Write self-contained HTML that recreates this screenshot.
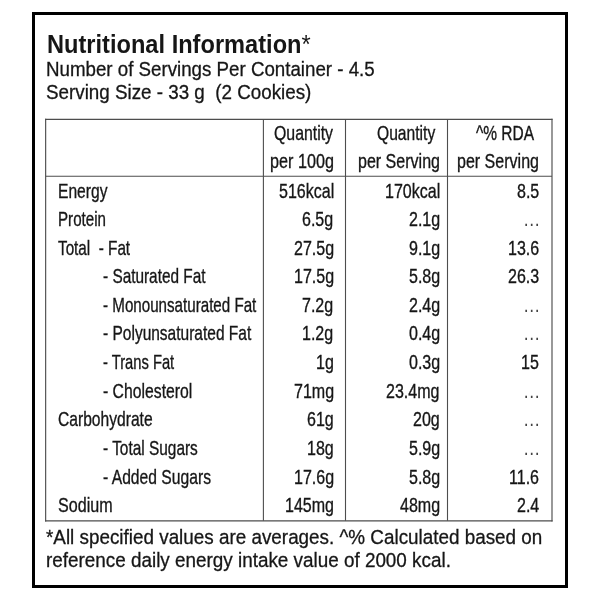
<!DOCTYPE html>
<html lang="en">
<head>
<meta charset="utf-8">
<title>Nutritional Information</title>
<style>
html,body{margin:0;padding:0;background:#fff;}
body{width:600px;height:600px;position:relative;overflow:hidden;font-family:"Liberation Sans",sans-serif;color:#161616;}
.card{position:absolute;left:32px;top:12px;width:530px;height:570px;border:3px solid #000;}
.t{position:absolute;white-space:pre;line-height:1;margin:0;font-weight:normal;transform-origin:0 0;}
h1.t{font-weight:bold;}
.ast{font-weight:normal;}
.th,.lab,.val{-webkit-text-stroke:0.35px #161616;}
.val.dots{-webkit-text-stroke:0;color:#444;}
.sub,.foot{-webkit-text-stroke:0.3px #161616;}
.grid{position:absolute;left:0;top:0;}
</style>
</head>
<body>
<div class="card"></div>
<svg class="grid" width="600" height="600" viewBox="0 0 600 600" aria-hidden="true">
<g stroke="#4d4d4d" stroke-width="1.15" stroke-linecap="square">
<line x1="45.65" y1="119.3" x2="552" y2="119.3"/>
<line x1="45.65" y1="520.9" x2="552" y2="520.9"/>
<line x1="45.65" y1="119.3" x2="45.65" y2="520.9"/>
<line x1="552" y1="119.3" x2="552" y2="520.9"/>
</g>
<line x1="45.65" y1="176.25" x2="552" y2="176.25" stroke="#4d4d4d" stroke-width="1.1"/>
<line x1="263.4" y1="119.3" x2="263.4" y2="520.65" stroke="#4d4d4d" stroke-width="1.1"/>
<line x1="345.5" y1="119.3" x2="345.5" y2="520.65" stroke="#4d4d4d" stroke-width="1.1"/>
<line x1="447.5" y1="119.3" x2="447.5" y2="520.65" stroke="#4d4d4d" stroke-width="1.1"/>
</svg>
<h1 class="t title" style="left:46.60px;top:31px;font-size:26.6px;transform:scaleX(0.8880);">Nutritional Information<span class="ast">*</span></h1>
<p class="t sub" style="left:46.00px;top:59px;font-size:20.1px;transform:scaleX(0.9313);">Number of Servings Per Container - 4.5</p>
<p class="t sub" style="left:45.80px;top:82px;font-size:20.1px;transform:scaleX(0.9354);">Serving Size - 33 g  (2 Cookies)</p>
<div class="t th" style="left:274.25px;top:123px;font-size:20.7px;transform:scaleX(0.7664);">Quantity</div>
<div class="t th" style="left:270.02px;top:151px;font-size:20.7px;transform:scaleX(0.7821);">per 100g</div>
<div class="t th" style="left:377.00px;top:123px;font-size:20.7px;transform:scaleX(0.7555);">Quantity</div>
<div class="t th" style="left:357.93px;top:151px;font-size:20.7px;transform:scaleX(0.7748);">per Serving</div>
<div class="t th" style="left:476.30px;top:123px;font-size:20.7px;transform:scaleX(0.7488);">^% RDA</div>
<div class="t th" style="left:456.73px;top:151px;font-size:20.7px;transform:scaleX(0.7748);">per Serving</div>
<div class="t lab" style="left:58.10px;top:181px;font-size:20.7px;transform:scaleX(0.7545);">Energy</div>
<div class="t val" style="left:278.50px;top:181px;font-size:20.7px;transform:scaleX(0.7750);">516kcal</div>
<div class="t val" style="left:384.70px;top:181px;font-size:20.7px;transform:scaleX(0.7750);">170kcal</div>
<div class="t val" style="left:517.00px;top:181px;font-size:20.7px;transform:scaleX(0.7750);">8.5</div>
<div class="t lab" style="left:58.10px;top:209px;font-size:20.7px;transform:scaleX(0.7318);">Protein</div>
<div class="t val" style="left:302.49px;top:209px;font-size:20.7px;transform:scaleX(0.7750);">6.5g</div>
<div class="t val" style="left:408.69px;top:209px;font-size:20.7px;transform:scaleX(0.7750);">2.1g</div>
<div class="t val dots" style="left:523.28px;top:209px;font-size:20.7px;transform:scaleX(0.8400);">…</div>
<div class="t lab" style="left:58.10px;top:238px;font-size:20.7px;transform:scaleX(0.7380);">Total  - Fat</div>
<div class="t val" style="left:293.57px;top:238px;font-size:20.7px;transform:scaleX(0.7750);">27.5g</div>
<div class="t val" style="left:408.69px;top:238px;font-size:20.7px;transform:scaleX(0.7750);">9.1g</div>
<div class="t val" style="left:508.09px;top:238px;font-size:20.7px;transform:scaleX(0.7750);">13.6</div>
<div class="t lab" style="left:103.10px;top:266px;font-size:20.7px;transform:scaleX(0.7429);">- Saturated Fat</div>
<div class="t val" style="left:293.57px;top:266px;font-size:20.7px;transform:scaleX(0.7750);">17.5g</div>
<div class="t val" style="left:408.69px;top:266px;font-size:20.7px;transform:scaleX(0.7750);">5.8g</div>
<div class="t val" style="left:508.09px;top:266px;font-size:20.7px;transform:scaleX(0.7750);">26.3</div>
<div class="t lab" style="left:103.10px;top:295px;font-size:20.7px;transform:scaleX(0.7326);">- Monounsaturated Fat</div>
<div class="t val" style="left:302.49px;top:295px;font-size:20.7px;transform:scaleX(0.7750);">7.2g</div>
<div class="t val" style="left:408.69px;top:295px;font-size:20.7px;transform:scaleX(0.7750);">2.4g</div>
<div class="t val dots" style="left:523.28px;top:295px;font-size:20.7px;transform:scaleX(0.8400);">…</div>
<div class="t lab" style="left:103.10px;top:323px;font-size:20.7px;transform:scaleX(0.7494);">- Polyunsaturated Fat</div>
<div class="t val" style="left:302.49px;top:323px;font-size:20.7px;transform:scaleX(0.7750);">1.2g</div>
<div class="t val" style="left:408.69px;top:323px;font-size:20.7px;transform:scaleX(0.7750);">0.4g</div>
<div class="t val dots" style="left:523.28px;top:323px;font-size:20.7px;transform:scaleX(0.8400);">…</div>
<div class="t lab" style="left:103.10px;top:352px;font-size:20.7px;transform:scaleX(0.7115);">- Trans Fat</div>
<div class="t val" style="left:315.86px;top:352px;font-size:20.7px;transform:scaleX(0.7750);">1g</div>
<div class="t val" style="left:408.69px;top:352px;font-size:20.7px;transform:scaleX(0.7750);">0.3g</div>
<div class="t val" style="left:521.46px;top:352px;font-size:20.7px;transform:scaleX(0.7750);">15</div>
<div class="t lab" style="left:103.10px;top:381px;font-size:20.7px;transform:scaleX(0.7611);">- Cholesterol</div>
<div class="t val" style="left:293.59px;top:381px;font-size:20.7px;transform:scaleX(0.7750);">71mg</div>
<div class="t val" style="left:386.42px;top:381px;font-size:20.7px;transform:scaleX(0.7750);">23.4mg</div>
<div class="t val dots" style="left:523.28px;top:381px;font-size:20.7px;transform:scaleX(0.8400);">…</div>
<div class="t lab" style="left:58.10px;top:409px;font-size:20.7px;transform:scaleX(0.7546);">Carbohydrate</div>
<div class="t val" style="left:306.94px;top:409px;font-size:20.7px;transform:scaleX(0.7750);">61g</div>
<div class="t val" style="left:413.14px;top:409px;font-size:20.7px;transform:scaleX(0.7750);">20g</div>
<div class="t val dots" style="left:523.28px;top:409px;font-size:20.7px;transform:scaleX(0.8400);">…</div>
<div class="t lab" style="left:103.10px;top:438px;font-size:20.7px;transform:scaleX(0.7448);">- Total Sugars</div>
<div class="t val" style="left:306.94px;top:438px;font-size:20.7px;transform:scaleX(0.7750);">18g</div>
<div class="t val" style="left:408.69px;top:438px;font-size:20.7px;transform:scaleX(0.7750);">5.9g</div>
<div class="t val dots" style="left:523.28px;top:438px;font-size:20.7px;transform:scaleX(0.8400);">…</div>
<div class="t lab" style="left:103.10px;top:467px;font-size:20.7px;transform:scaleX(0.7573);">- Added Sugars</div>
<div class="t val" style="left:293.57px;top:467px;font-size:20.7px;transform:scaleX(0.7750);">17.6g</div>
<div class="t val" style="left:408.69px;top:467px;font-size:20.7px;transform:scaleX(0.7750);">5.8g</div>
<div class="t val" style="left:509.28px;top:467px;font-size:20.7px;transform:scaleX(0.7750);">11.6</div>
<div class="t lab" style="left:58.10px;top:495px;font-size:20.7px;transform:scaleX(0.7778);">Sodium</div>
<div class="t val" style="left:284.67px;top:495px;font-size:20.7px;transform:scaleX(0.7750);">145mg</div>
<div class="t val" style="left:399.79px;top:495px;font-size:20.7px;transform:scaleX(0.7750);">48mg</div>
<div class="t val" style="left:517.00px;top:495px;font-size:20.7px;transform:scaleX(0.7750);">2.4</div>
<p class="t foot" style="left:46.20px;top:527px;font-size:20.1px;transform:scaleX(0.9385);">*All specified values are averages. ^% Calculated based on</p>
<p class="t foot" style="left:45.80px;top:550px;font-size:20.1px;transform:scaleX(0.9391);">reference daily energy intake value of 2000 kcal.</p>
</body>
</html>
